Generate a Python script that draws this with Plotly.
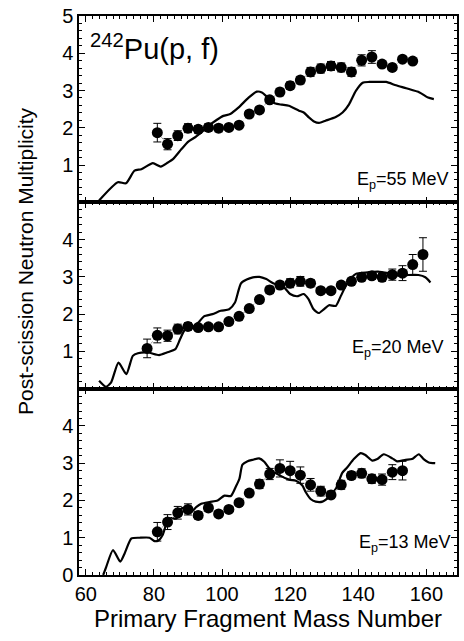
import plotly.graph_objects as go
from plotly.subplots import make_subplots

# ---------------- data ----------------
# 55 MeV panel
mass_55 = [81, 84, 87, 90, 93, 96, 99, 102, 105, 108, 111, 114, 117, 120, 123, 126,
           129, 132, 135, 138, 141, 144, 147, 150, 153, 156]
nu_55 = [1.87, 1.56, 1.79, 1.99, 1.96, 2.01, 1.99, 2.01, 2.07, 2.37, 2.48, 2.75, 2.96,
         3.13, 3.28, 3.50, 3.59, 3.66, 3.62, 3.50, 3.81, 3.90, 3.71, 3.62, 3.84, 3.79]
err_55 = [0.25, 0.15, 0.13, 0.12, 0.10, 0.10, 0.10, 0.08, 0.08, 0.08, 0.08, 0.08, 0.10,
          0.10, 0.10, 0.12, 0.12, 0.12, 0.12, 0.12, 0.15, 0.17, 0.06, 0.06, 0.06, 0.06]
calc_mass_55 = [63.9, 69.4, 71.8, 74.3, 76.3, 79.7, 82.0, 84.1, 85.6, 88.1, 90.1, 92.0,
                94.0, 96.0, 98.4, 100.4, 102.4, 104.8, 107.8, 110.2, 111.7, 113.7, 115.7,
                117.6, 119.6, 122.6, 124.0, 125.5, 127.0, 128.5, 130.4, 133.4, 135.4,
                137.3, 139.3, 141.3, 143.2, 146.2, 148.2, 151.1, 154.1, 158.0, 160.5, 162.2]
calc_nu_55 = [0.05, 0.54, 0.51, 0.85, 0.89, 1.05, 0.96, 1.07, 1.16, 1.43, 1.63, 1.74,
              1.88, 2.05, 2.21, 2.32, 2.37, 2.54, 2.81, 2.97, 2.95, 2.79, 2.65,
              2.62, 2.59, 2.46, 2.41, 2.28, 2.17, 2.13, 2.19, 2.29, 2.41,
              2.63, 2.99, 3.21, 3.23, 3.23, 3.23, 3.14, 3.06, 2.95, 2.81, 2.77]

# 20 MeV panel
mass_20 = [78, 81, 84, 87, 90, 93, 96, 99, 102, 105, 108, 111, 114, 117, 120, 123, 126,
           129, 132, 135, 138, 141, 144, 147, 150, 153, 156, 159]
nu_20 = [1.08, 1.43, 1.42, 1.60, 1.67, 1.64, 1.66, 1.66, 1.80, 1.94, 2.15, 2.39, 2.65,
         2.78, 2.83, 2.88, 2.83, 2.63, 2.63, 2.78, 2.88, 2.99, 3.03, 2.99, 3.06, 3.10,
         3.33, 3.60]
err_20 = [0.25, 0.20, 0.15, 0.13, 0.10, 0.08, 0.08, 0.08, 0.08, 0.08, 0.08, 0.08, 0.10,
          0.10, 0.12, 0.13, 0.10, 0.08, 0.08, 0.08, 0.08, 0.08, 0.10, 0.10, 0.15, 0.20,
          0.27, 0.45]
calc_mass_20 = [63.9, 65.9, 67.4, 69.6, 71.9, 73.8, 75.3, 78.3, 81.5, 83.8, 86.3, 87.7,
                89.2, 91.2, 93.2, 94.7, 97.2, 99.6, 102.1, 103.8, 105.6, 108.1, 111.0,
                113.0, 115.0, 118.0, 120.0, 122.0, 124.0, 125.4, 126.9, 128.4, 129.9,
                131.4, 133.4, 134.9, 136.8, 139.3, 142.8, 145.8, 148.8, 152.2, 154.7,
                157.7, 159.7, 161.2]
calc_nu_20 = [0.21, 0.05, 0.16, 0.70, 0.39, 0.88, 0.95, 0.97, 0.90, 0.97, 1.06, 1.33,
              1.60, 1.64, 1.79, 1.94, 2.00, 2.09, 2.13, 2.31, 2.83, 2.96, 3.00,
              2.94, 2.83, 2.74, 2.54, 2.48, 2.54, 2.40, 2.13, 2.03, 2.13,
              2.24, 2.22, 2.49, 2.83, 3.08, 3.12, 3.14, 3.10, 3.03, 3.05,
              3.05, 2.99, 2.85]

# 13 MeV panel
mass_13 = [81, 84, 87, 90, 93, 96, 99, 102, 105, 108, 111, 114, 117, 120, 123, 126,
           129, 132, 135, 138, 141, 144, 147, 150, 153]
nu_13 = [1.16, 1.42, 1.67, 1.76, 1.60, 1.80, 1.64, 1.76, 1.94, 2.20, 2.44, 2.71, 2.86,
         2.80, 2.68, 2.42, 2.25, 2.15, 2.42, 2.67, 2.73, 2.58, 2.56, 2.76, 2.80]
err_13 = [0.25, 0.20, 0.17, 0.15, 0.10, 0.10, 0.08, 0.08, 0.08, 0.08, 0.12, 0.15, 0.23,
          0.25, 0.22, 0.17, 0.13, 0.10, 0.12, 0.10, 0.12, 0.12, 0.15, 0.20, 0.25]
calc_mass_13 = [65.1, 66.0, 68.0, 70.1, 71.4, 73.4, 75.8, 78.7, 80.2, 81.2, 82.6, 84.1,
                85.1, 86.5, 88.0, 89.5, 90.9, 92.4, 93.9, 96.3, 98.7, 100.7, 102.6,
                104.1, 105.1, 106.0, 107.5, 109.0, 110.9, 112.4, 113.9, 116.8, 119.7,
                121.7, 123.6, 124.6, 126.0, 127.5, 129.5, 131.4, 133.4, 135.3, 136.8,
                138.7, 140.7, 142.1, 144.1, 145.6, 147.5, 150.0, 151.4, 153.9, 155.8,
                157.8, 159.2, 160.7, 162.6]
calc_nu_13 = [0.00, 0.22, 0.67, 0.36, 0.58, 0.98, 1.00, 1.00, 0.91, 0.92, 1.08, 1.49,
              1.53, 1.51, 1.78, 1.80, 1.69, 1.82, 1.91, 1.96, 2.00, 2.13, 2.12,
              2.38, 2.58, 2.96, 3.05, 3.09, 3.13, 3.04, 2.86, 2.68, 2.56,
              2.53, 2.40, 2.22, 2.04, 1.97, 1.97, 2.09, 2.31, 2.74, 2.89,
              3.11, 3.27, 3.22, 3.07, 3.11, 3.24, 3.13, 3.05, 3.09, 3.11,
              3.24, 3.11, 3.02, 3.00]

energies = ["55", "20", "13"]
y_ticks = [[1, 2, 3, 4, 5], [1, 2, 3, 4], [0, 1, 2, 3, 4]]
x_ticks = [60, 80, 100, 120, 140, 160]

panels = [
    (mass_55, nu_55, err_55, calc_mass_55, calc_nu_55),
    (mass_20, nu_20, err_20, calc_mass_20, calc_nu_20),
    (mass_13, nu_13, err_13, calc_mass_13, calc_nu_13),
]

FONT = "Liberation Sans, Arial, sans-serif"

fig = make_subplots(rows=3, cols=1, shared_xaxes=True, vertical_spacing=0)

for i, (mx, ny, ey, cx, cy) in enumerate(panels):
    r = i + 1
    fig.add_trace(go.Scatter(x=cx, y=cy, mode="lines",
                             line=dict(color="black", width=2.2, shape="spline", smoothing=0.6),
                             showlegend=False, hoverinfo="skip"), row=r, col=1)
    fig.add_trace(go.Scatter(x=mx, y=ny, mode="lines+markers",
                             line=dict(color="#999999", width=1, dash="dot"),
                             marker=dict(color="black", size=11),
                             error_y=dict(type="data", array=ey, color="black", thickness=1, width=4),
                             showlegend=False), row=r, col=1)
    fig.update_yaxes(range=[0, 5], tickvals=y_ticks[i], ticks="inside", ticklen=6, tickwidth=1,
                     tickcolor="black", mirror="ticks", showline=True, linecolor="black", linewidth=1.5,
                     showgrid=False, zeroline=False,
                     minor=dict(dtick=0.2, tick0=0, ticks="inside", ticklen=3, tickcolor="black"),
                     tickfont=dict(family=FONT, size=20, color="black"), row=r, col=1)
    fig.update_xaxes(range=[58, 169], tickvals=x_ticks, ticks="inside", ticklen=6, tickwidth=1,
                     tickcolor="black", mirror="ticks", showline=True, linecolor="black", linewidth=1.5,
                     showgrid=False, zeroline=False, showticklabels=(r == 3),
                     minor=dict(dtick=2, tick0=60, ticks="inside", ticklen=3, tickcolor="black"),
                     tickfont=dict(family=FONT, size=20, color="black"), row=r, col=1)

fig.update_xaxes(title=dict(text="Primary Fragment Mass Number", font=dict(family=FONT, size=24, color="black"),
                            standoff=1), row=3, col=1)

# panel labels
ep_y = [(575 - 193) / 560, (575 - 362) / 560, (575 - 557) / 560]
ep_x = [(453 - 79) / 380, (448 - 79) / 380, (455 - 79) / 380]
for i, ep in enumerate(energies):
    fig.add_annotation(text="E<sub>p</sub>=%s MeV" % ep, xref="paper", yref="paper",
                       x=ep_x[i], y=ep_y[i], xanchor="right", yanchor="bottom", showarrow=False,
                       font=dict(family=FONT, size=18, color="black"))

fig.add_annotation(text="<sup>242</sup>Pu(p, f)", xref="paper", yref="paper",
                   x=(88 - 79) / 380, y=(575 - 66) / 560, xanchor="left", yanchor="bottom",
                   showarrow=False, font=dict(family=FONT, size=29, color="black"))

fig.add_annotation(text="Post-scission Neutron Multiplicity", xref="paper", yref="paper",
                   x=-0.142, y=(575 - 261) / 560, xanchor="center", yanchor="middle", textangle=-90,
                   showarrow=False, font=dict(family=FONT, size=21, color="black"))

fig.update_layout(width=464, height=641, margin=dict(l=79, r=5, t=15, b=66),
                  plot_bgcolor="white", paper_bgcolor="white")

fig.write_html("out.html")
